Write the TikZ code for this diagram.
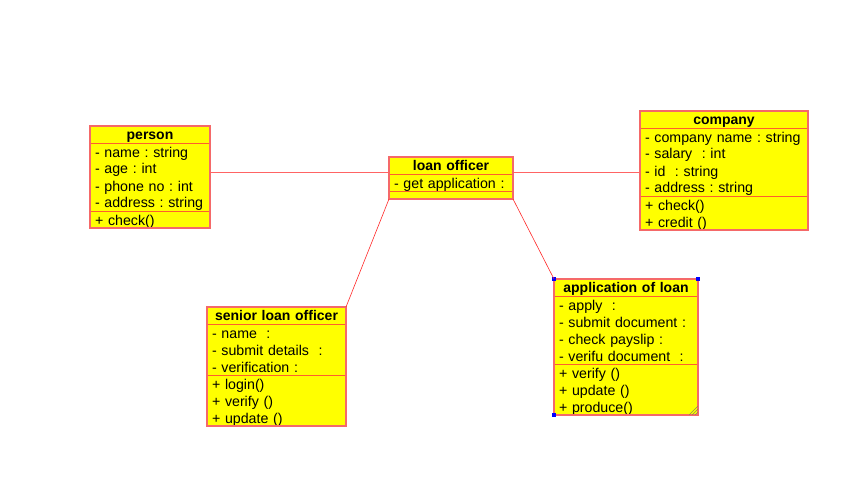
\documentclass[tikz,border=0pt]{standalone}
\usepackage{fontspec}
\setmainfont{Liberation Sans}
\usepackage{xcolor}
\usetikzlibrary{positioning}
\frenchspacing
\definecolor{classyellow}{RGB}{255,255,0}
\definecolor{classred}{RGB}{245,105,105}
\definecolor{partline}{RGB}{255,95,45}
\definecolor{assocred}{RGB}{255,40,40}
\definecolor{linkred}{RGB}{255,100,100}
\definecolor{gripgray}{RGB}{140,140,80}
\tikzstyle{classtitle} = [draw=partline, fill=classyellow, rectangle, line width=0.9pt,
    inner xsep=5pt, inner ysep=0pt, outer sep=0pt, align=center,
    font=\fontsize{14pt}{17pt}\selectfont\bfseries,
    execute at begin node={\rule{0pt}{13pt}},
    execute at end node={\rule[-4pt]{0pt}{4pt}}]
\tikzstyle{classpart} = [draw=partline, fill=classyellow, rectangle, line width=0.9pt,
    inner xsep=5pt, inner ysep=0pt, outer sep=0pt, align=left,
    font=\fontsize{14.2pt}{17pt}\selectfont,
    execute at begin node={\rule{0pt}{14pt}},
    execute at end node={\rule[-3pt]{0pt}{3pt}}]
\tikzstyle{emptypart} = [draw=partline, fill=classyellow, rectangle, line width=0.9pt,
    inner sep=0pt, outer sep=0pt, minimum height=8pt]
\tikzstyle{classborder} = [draw=classred, line width=1.3pt]
\tikzstyle{assoc} = [draw=linkred, line width=1.3pt]
\tikzstyle{thinassoc} = [draw=assocred, line width=0.6pt]
\tikzstyle{handle} = [fill=blue, rectangle, inner sep=0pt, minimum size=4pt]

\begin{document}
\begin{tikzpicture}[x=1pt, y=-1pt]
\useasboundingbox (0,0) rectangle (862,503);

% person
\node[classtitle, text width=110pt, anchor=north west] (person) at (90,126) {person};
\node[classpart, text width=110pt, below=0pt of person] (person attr)
    {- name : string\\- age : int\\- phone no : int\\- address : string};
\node[classpart, text width=110pt, below=0pt of person attr] (person ops) {+ check()};
\draw[classborder] (person.north west) rectangle (person ops.south east);

% loan officer
\node[classtitle, text width=114pt, anchor=north west] (lo) at (389,157) {loan officer};
\node[classpart, text width=114pt, below=0pt of lo] (lo attr) {- get application :};
\node[emptypart, minimum width=124pt, below=0pt of lo attr] (lo ops) {};
\draw[classborder] (lo.north west) rectangle (lo ops.south east);

% company
\node[classtitle, text width=158pt, anchor=north west] (company) at (640,111) {company};
\node[classpart, text width=158pt, below=0pt of company] (company attr)
    {- company name : string\\- salary~ : int\\- id~ : string\\- address : string};
\node[classpart, text width=158pt, below=0pt of company attr] (company ops)
    {+ check()\\+ credit ()};
\draw[classborder] (company.north west) rectangle (company ops.south east);

% senior loan officer
\node[classtitle, text width=129pt, anchor=north west] (senior) at (207,307) {senior loan officer};
\node[classpart, text width=129pt, below=0pt of senior] (senior attr)
    {- name~ :\\- submit details~ :\\- verification :};
\node[classpart, text width=129pt, below=0pt of senior attr] (senior ops)
    {+ login()\\+ verify ()\\+ update ()};
\draw[classborder] (senior.north west) rectangle (senior ops.south east);

% application of loan
\node[classtitle, text width=134pt, anchor=north west] (app) at (554,279) {application of loan};
\node[classpart, text width=134pt, below=0pt of app] (app attr)
    {- apply~ :\\- submit document :\\- check payslip :\\- verifu document~ :};
\node[classpart, text width=134pt, below=0pt of app attr] (app ops)
    {+ verify ()\\+ update ()\\+ produce()};
\draw[classborder] (app.north west) rectangle (app ops.south east);

% selection handles and grip
\node[handle] (h1) at (app.north west) {};
\node[handle] (h2) at (app.north east) {};
\node[handle] (h3) at (app ops.south west) {};
\draw[gripgray, line width=0.6pt] ([xshift=-9pt]app ops.south east) -- ([yshift=9pt]app ops.south east);
\draw[gripgray, line width=0.6pt] ([xshift=-6pt]app ops.south east) -- ([yshift=6pt]app ops.south east);
\draw[gripgray, line width=0.6pt] ([xshift=-3pt]app ops.south east) -- ([yshift=3pt]app ops.south east);

% associations
\draw[assoc] ([yshift=1.5pt]lo.south west) -- ([yshift=1.5pt]lo.south west -| person attr.east);
\draw[assoc] ([yshift=1.5pt]lo.south east) -- ([yshift=1.5pt]lo.south east -| company attr.west);
\draw[thinassoc] (lo ops.south west) -- (senior.north east);
\draw[thinassoc] (lo ops.south east) -- (app.north west);
\end{tikzpicture}
\end{document}
